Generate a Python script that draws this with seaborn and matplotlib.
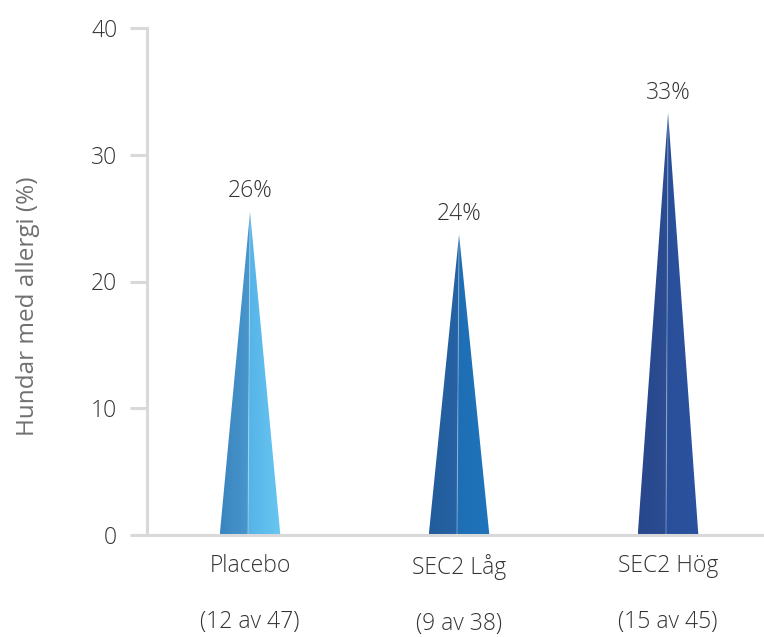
import matplotlib
matplotlib.use("Agg")
import matplotlib.pyplot as plt
from matplotlib.patches import Polygon
import numpy as np
import pandas as pd
import seaborn as sns

# Share of dogs that developed allergy per treatment group
groups = ["Placebo", "SEC2 Låg", "SEC2 Hög"]
counts = ["(12 av 47)", "(9 av 38)", "(15 av 45)"]
percent = [25.5, 23.7, 33.3]

# Two faces per pyramid: shaded left face, lighter right face (start, end of gradient)
left_face = [("#3b84bf", "#4898cd"), ("#225c9c", "#2663a4"), ("#29478b", "#2b4d93")]
right_face = [("#56b3e8", "#68c6f1"), ("#1e6eb4", "#1f74bb"), ("#2a4f9a", "#2a529f")]

y_ticks = [0, 10, 20, 30, 40]

sns.set_theme(style="white")
plt.rcParams["font.family"] = ["Open Sans", "DejaVu Sans"]
plt.rcParams["font.weight"] = "light"

fig = plt.figure(figsize=(7.64, 6.37), dpi=100)
ax = fig.add_axes([147 / 764, 102 / 637, (764 - 147) / 764, (535 - 28) / 637])

df = pd.DataFrame({"group": groups, "percent": percent})
sns.barplot(data=df, x="group", y="percent", width=0.29, color="white", ax=ax)

# Replace each rectangular bar with a two-faced pyramid of the same height
bars = list(ax.patches)
for i, bar in enumerate(bars):
    x0 = bar.get_x()
    w = bar.get_width()
    h = bar.get_height()
    xc = x0 + w / 2
    xd = xc - 0.01
    faces = [
        ([(x0, 0), (xd, 0), (xc, h)], left_face[i]),
        ([(xd, 0), (x0 + w, 0), (xc, h)], right_face[i]),
    ]
    for pts, (c0, c1) in faces:
        poly = Polygon(pts, closed=True, facecolor="none", edgecolor="none")
        ax.add_patch(poly)
        xs = [p[0] for p in pts]
        grad = np.linspace(0, 1, 64).reshape(1, -1)
        cmap = matplotlib.colors.LinearSegmentedColormap.from_list("f", [c0, c1])
        im = ax.imshow(grad, cmap=cmap, aspect="auto",
                       extent=[min(xs), max(xs), 0, h], origin="lower", zorder=2)
        im.set_clip_path(poly)
    ax.plot([xd, xc], [0, h], color="white", alpha=0.3, lw=0.8, zorder=3)
    bar.remove()
    ax.annotate(f"{h:.0f}%", (xc, h), xytext=(0, 6), textcoords="offset points",
                ha="center", va="bottom", fontsize=16.5, color="#333333")

ax.set_xlim(-0.493, 2.459)
ax.set_ylim(0, 40)
ax.set_yticks(y_ticks)
ax.set_xticks(range(len(groups)))
ax.set_xticklabels([f"{g}\n\n{c}" for g, c in zip(groups, counts)],
                   linespacing=1.2, fontsize=16.5, color="#333333")
ax.tick_params(axis="y", length=12.5, width=2.2, color="#d9d9d9", pad=9,
               labelsize=16.5, labelcolor="#333333", left=True)
ax.tick_params(axis="x", length=0, pad=14)

for side in ["top", "right"]:
    ax.spines[side].set_visible(False)
for side in ["left", "bottom"]:
    ax.spines[side].set_color("#d9d9d9")
    ax.spines[side].set_linewidth(2.2)

ax.set_xlabel("")
ax.set_ylabel("Hundar med allergi (%)", fontsize=17.5, color="#707070", va="center")
ax.yaxis.set_label_coords(-0.193, 0.452)

fig.savefig("out.png", dpi=100)
